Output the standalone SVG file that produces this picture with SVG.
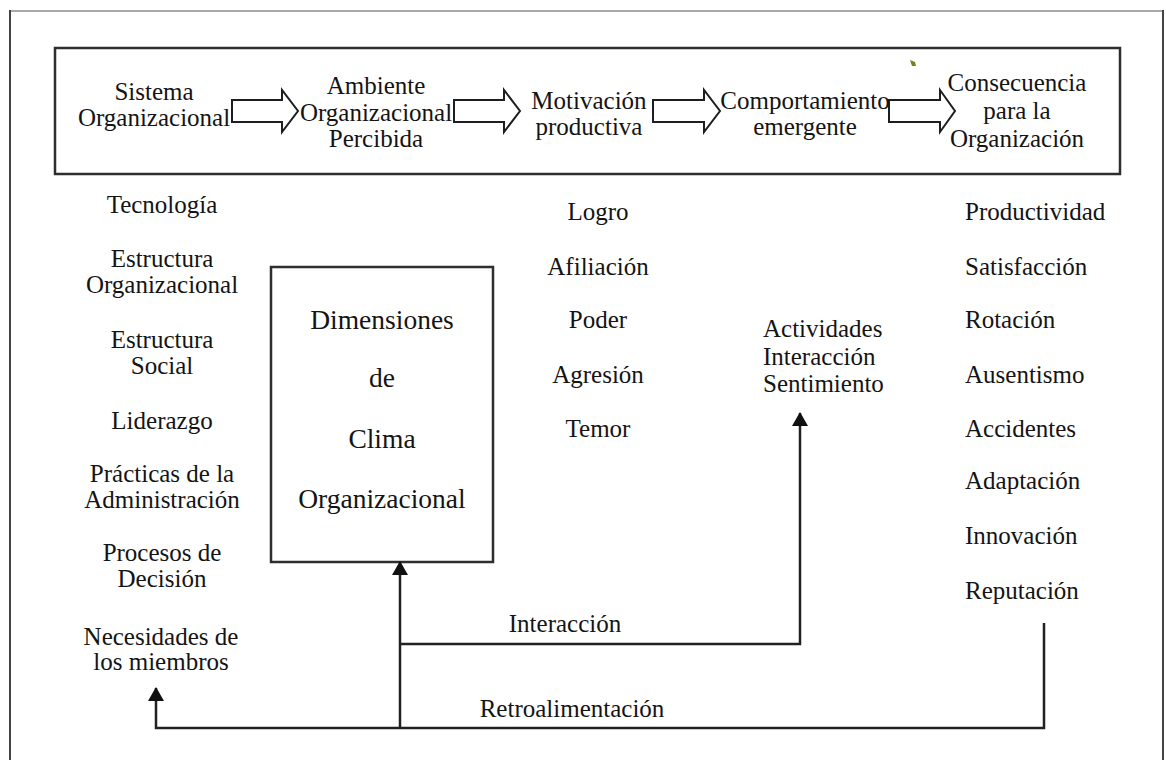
<svg xmlns="http://www.w3.org/2000/svg" width="1166" height="760" viewBox="0 0 1166 760">
<defs>
<style>
text{font-family:"Liberation Serif","Times New Roman",serif;font-size:25px;fill:#141414}
.c{text-anchor:middle}
.s{text-anchor:start}
.big{font-size:27.5px}
.box{fill:#fff;stroke:#2e2e2e;stroke-width:2.5}
.barrow{fill:#fff;stroke:#1e1e1e;stroke-width:2;stroke-linejoin:miter}
.conn{fill:none;stroke:#222;stroke-width:2.5}
</style>
<marker id="ah" viewBox="0 0 14 16" refX="13" refY="8" markerWidth="14" markerHeight="16" markerUnits="userSpaceOnUse" orient="auto">
<path d="M0,0 L14,8 L0,16 z" fill="#111"/>
</marker>
</defs>
<rect width="1166" height="760" fill="#fff"/>
<g id="frame">
<line x1="10" y1="11" x2="1163" y2="11" stroke="#8c8c8c" stroke-width="1.5"/>
<line x1="10" y1="10" x2="10" y2="760" stroke="#444" stroke-width="2"/>
<line x1="1163" y1="10" x2="1163" y2="760" stroke="#444" stroke-width="2"/>
</g>
<g id="process-box">
<rect class="box" x="55" y="48" width="1065" height="126"/>
</g>
<g id="block-arrows">
<polygon class="barrow" points="232,100 282,100 282,90 298,111 282,132 282,122 232,122"/>
<polygon class="barrow" points="454,100 504,100 504,90 520,111 504,132 504,122 454,122"/>
<polygon class="barrow" points="653,100 704,100 704,90 720,111 704,132 704,122 653,122"/>
<polygon class="barrow" points="889,100 940,100 940,90 955,111 940,132 940,122 889,122"/>
</g>
<g id="n-sistema"><text class="c" x="154" y="100">Sistema</text><text class="c" x="154" y="126">Organizacional</text></g>
<g id="n-ambiente"><text class="c" x="376" y="94">Ambiente</text><text class="c" x="376" y="121">Organizacional</text><text class="c" x="376" y="147">Percibida</text></g>
<g id="n-motivacion"><text class="c" x="589" y="109">Motivación</text><text class="c" x="589" y="135">productiva</text></g>
<g id="n-comportamiento"><text class="c" x="805" y="109">Comportamiento</text><text class="c" x="805" y="135">emergente</text></g>
<g id="n-consecuencia"><text class="c" x="1017" y="91">Consecuencia</text><text class="c" x="1017" y="119">para la</text><text class="c" x="1017" y="147">Organización</text></g>
<polygon points="910,60 915,62 916,66 912,66" fill="#7d7d1e"/>
<g id="n-factores">
<text class="c" x="162" y="213">Tecnología</text>
<text class="c" x="162" y="267">Estructura</text><text class="c" x="162" y="293">Organizacional</text>
<text class="c" x="162" y="348">Estructura</text><text class="c" x="162" y="374">Social</text>
<text class="c" x="162" y="429">Liderazgo</text>
<text class="c" x="162" y="482">Prácticas de la</text><text class="c" x="162" y="508">Administración</text>
<text class="c" x="162" y="561">Procesos de</text><text class="c" x="162" y="587">Decisión</text>
<text class="c" x="161" y="645">Necesidades de</text><text class="c" x="161" y="670">los miembros</text>
</g>
<g id="n-dimensiones">
<rect class="box" x="271" y="267" width="222" height="295"/>
<text class="c big" x="382" y="329">Dimensiones</text>
<text class="c big" x="382" y="387">de</text>
<text class="c big" x="382" y="448">Clima</text>
<text class="c big" x="382" y="508">Organizacional</text>
</g>
<g id="n-motivos">
<text class="c" x="598" y="220">Logro</text>
<text class="c" x="598" y="275">Afiliación</text>
<text class="c" x="598" y="328">Poder</text>
<text class="c" x="598" y="383">Agresión</text>
<text class="c" x="598" y="437">Temor</text>
</g>
<g id="n-actividades">
<text class="s" x="763" y="337">Actividades</text>
<text class="s" x="763" y="365">Interacción</text>
<text class="s" x="763" y="392">Sentimiento</text>
</g>
<g id="n-consecuencias">
<text class="s" x="965" y="220">Productividad</text>
<text class="s" x="965" y="275">Satisfacción</text>
<text class="s" x="965" y="328">Rotación</text>
<text class="s" x="965" y="383">Ausentismo</text>
<text class="s" x="965" y="437">Accidentes</text>
<text class="s" x="965" y="489">Adaptación</text>
<text class="s" x="965" y="544">Innovación</text>
<text class="s" x="965" y="599">Reputación</text>
</g>
<g id="connectors">
<path class="conn" d="M1044,623 L1044,728 L156,728 L156,688" marker-end="url(#ah)"/>
<path class="conn" d="M400,728 L400,562" marker-end="url(#ah)"/>
<path class="conn" d="M400,644 L800,644 L800,413" marker-end="url(#ah)"/>
<text class="c" x="565" y="632">Interacción</text>
<text class="c" x="572" y="717">Retroalimentación</text>
</g>
</svg>
